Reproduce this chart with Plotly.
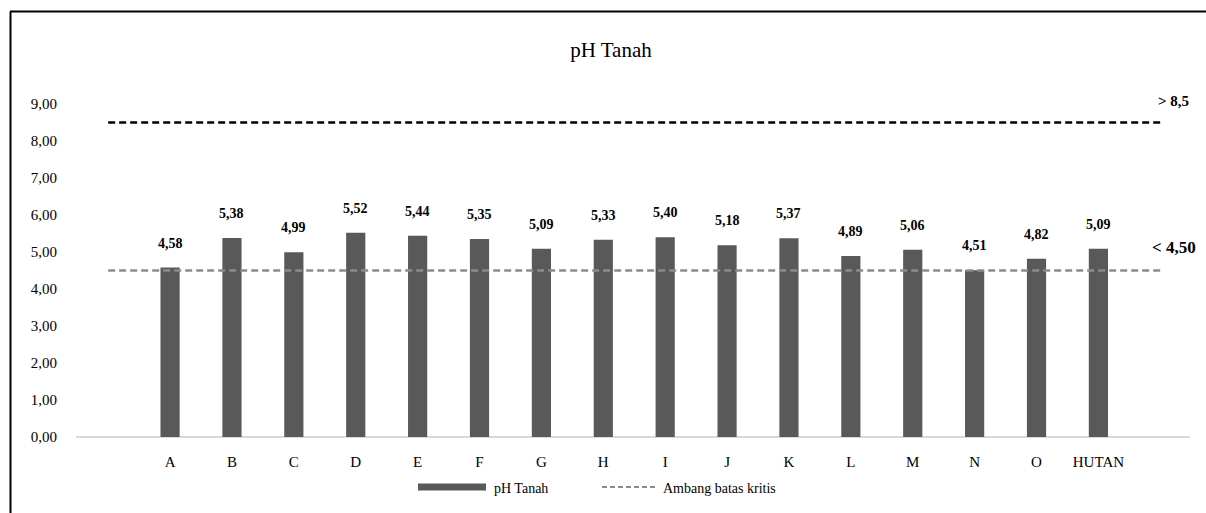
import plotly.graph_objects as go

# Soil pH per sampling site
sites = ["A", "B", "C", "D", "E", "F", "G", "H", "I", "J", "K", "L", "M", "N", "O", "HUTAN"]
ph_values = [4.58, 5.38, 4.99, 5.52, 5.44, 5.35, 5.09, 5.33, 5.40, 5.18, 5.37, 4.89, 5.06, 4.51, 4.82, 5.09]
upper_limit = 8.5
lower_limit = 4.50
y_ticks = [0, 1, 2, 3, 4, 5, 6, 7, 8, 9]

W, H = 1206, 513
ML, MR, MT, MB = 76, 16, 67, 76
PW, PH = W - ML - MR, H - MT - MB

def px(x):
    return (x - ML) / PW

def py(y):
    return (H - MB - y) / PH

def fmt(v, d=2):
    return f"{v:.{d}f}".replace(".", ",")

FONT = "Times New Roman, Liberation Serif, serif"
BAR = "#595959"
GREY = "#8c8c8c"

idx = list(range(len(sites)))

fig = go.Figure()
fig.add_trace(go.Bar(
    x=idx, y=ph_values, width=0.31, marker=dict(color=BAR, line=dict(width=0)),
    name="pH Tanah", showlegend=False,
))
fig.add_trace(go.Scatter(
    x=[-1, len(sites)], y=[upper_limit, upper_limit], mode="lines",
    line=dict(color="#000000", width=2.5, dash="7px,4px"), showlegend=False, hoverinfo="skip",
))
fig.add_trace(go.Scatter(
    x=[-1, len(sites)], y=[lower_limit, lower_limit], mode="lines",
    line=dict(color=GREY, width=2.5, dash="7px,4px"), name="Ambang batas kritis",
    showlegend=False, hoverinfo="skip",
))

shapes = [
    # outer frame (left and top edges)
    dict(type="line", xref="paper", yref="paper", x0=px(10.5), x1=px(10.5), y0=py(11.5), y1=py(H + 2),
         line=dict(color="#000000", width=2)),
    dict(type="line", xref="paper", yref="paper", x0=px(10), x1=px(W), y0=py(11.5), y1=py(11.5),
         line=dict(color="#000000", width=2)),
    # legend swatches
    dict(type="rect", xref="paper", yref="paper", x0=px(418), x1=px(486), y0=py(490.5), y1=py(483.5),
         fillcolor=BAR, line=dict(width=0)),
    dict(type="line", xref="paper", yref="paper", x0=px(602), x1=px(655), y0=py(487), y1=py(487),
         line=dict(color=GREY, width=2, dash="5px,3px")),
]

# value labels above each bar
annotations = [
    dict(text=fmt(v), x=i, y=v, xref="x", yref="y", xanchor="center", yanchor="bottom",
         yshift=15, showarrow=False,
         font=dict(family=FONT, size=14, color="#000000", weight="bold"))
    for i, v in zip(idx, ph_values)
]

annotations += [
    dict(text="> " + fmt(upper_limit, 1), xref="paper", yref="paper", x=px(1191), y=py(101),
         xanchor="right", yanchor="middle", showarrow=False,
         font=dict(family=FONT, size=15, color="#000000", weight="bold")),
    dict(text="< " + fmt(lower_limit), xref="paper", yref="paper", x=px(1198), y=py(247),
         xanchor="right", yanchor="middle", showarrow=False,
         font=dict(family=FONT, size=17, color="#000000", weight="bold")),
    dict(text="pH Tanah", xref="paper", yref="paper", x=px(492), y=py(488),
         xanchor="left", yanchor="middle", showarrow=False,
         font=dict(family=FONT, size=14, color="#000000")),
    dict(text="Ambang batas kritis", xref="paper", yref="paper", x=px(661), y=py(488),
         xanchor="left", yanchor="middle", showarrow=False,
         font=dict(family=FONT, size=14, color="#000000")),
]

fig.update_layout(
    width=W, height=H,
    margin=dict(l=ML, r=MR, t=MT, b=MB),
    paper_bgcolor="#ffffff", plot_bgcolor="#ffffff",
    title=dict(text="pH Tanah", x=611 / W, xanchor="center", y=1 - 50 / H, yanchor="middle",
               font=dict(family=FONT, size=21, color="#000000")),
    showlegend=False,
    shapes=shapes,
    annotations=annotations,
    xaxis=dict(
        range=[-1.52, 16.48], tickmode="array", tickvals=idx, ticktext=sites,
        showgrid=False, zeroline=False, showline=False, ticks="", ticklabelstandoff=14,
        tickfont=dict(family=FONT, size=15, color="#000000"),
    ),
    yaxis=dict(
        range=[0, 10], tickmode="array", tickvals=y_ticks, ticktext=[fmt(v) for v in y_ticks],
        showgrid=False, zeroline=True, zerolinecolor="#d9d9d9", zerolinewidth=1.5,
        showline=False, ticks="", ticklabelstandoff=18,
        tickfont=dict(family=FONT, size=15, color="#000000"),
    ),
)

fig.write_html("out.html", config={"displayModeBar": False})
